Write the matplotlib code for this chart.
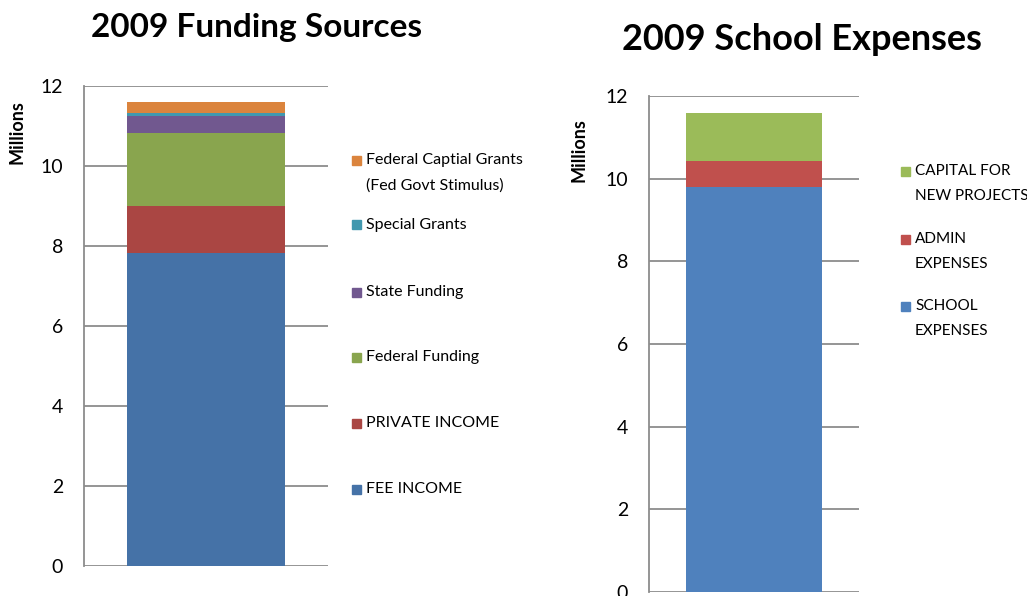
import matplotlib
matplotlib.use('Agg')
import matplotlib.pyplot as plt
from matplotlib.patches import Rectangle

plt.rcParams['font.family'] = ['Lato', 'DejaVu Sans']

# 2009 funding sources (millions), bottom to top
fund_labels = ["FEE INCOME", "PRIVATE INCOME", "Federal Funding", "State Funding",
               "Special Grants", "Federal Captial Grants\n(Fed Govt Stimulus)"]
fund_values = [7.83, 1.17, 1.825, 0.425, 0.075, 0.275]
fund_colors = ["#4572A7", "#AA4643", "#89A54E", "#71588F", "#4198AF", "#DB843D"]

# 2009 school expenses (millions), bottom to top
exp_labels = ["SCHOOL\nEXPENSES", "ADMIN\nEXPENSES", "CAPITAL FOR\nNEW PROJECTS"]
exp_values = [9.79, 0.63, 1.17]
exp_colors = ["#4F81BD", "#C0504D", "#9BBB59"]

yticks = [0, 2, 4, 6, 8, 10, 12]

W, H = 1027, 596
fig = plt.figure(figsize=(W / 100, H / 100), dpi=100)


def px(x, y):
    return x / W, 1 - y / H


def stacked(ax, values, colors):
    bottom = 0
    for v, c in zip(values, colors):
        ax.bar(0, v, width=0.645, bottom=bottom, color=c, zorder=3)
        bottom += v
    ax.set_xlim(-0.5, 0.5)
    ax.set_ylim(0, 12)
    ax.set_yticks(yticks)
    ax.set_xticks([])
    ax.grid(axis='y', color='#8c8c8c', linewidth=1.3, zorder=0)
    for s in ['top', 'right', 'bottom']:
        ax.spines[s].set_visible(False)
    ax.spines['left'].set_color('#8c8c8c')
    ax.spines['left'].set_linewidth(1.3)
    ax.tick_params(axis='y', length=0, pad=15, labelsize=14)


def legend(labels, colors, x, ys, size):
    for lab, c, y in zip(labels, colors, ys):
        fx, fy = px(x, y)
        fig.patches.append(Rectangle((fx, fy - 4.5 / H), 9 / W, 9 / H,
                                     transform=fig.transFigure, color=c))
        fig.text(fx + 14 / W, fy + 7 / H, lab, fontsize=size, va='top',
                 linespacing=2.0)


ax1 = fig.add_axes([84 / W, 30 / H, 244 / W, 480 / H])
stacked(ax1, fund_values, fund_colors)
ax1.set_ylabel("Millions", fontsize=13, fontweight='bold')
ax1.yaxis.set_label_coords(-0.24, 0.905)

ax2 = fig.add_axes([649 / W, 4 / H, 210 / W, 496 / H])
stacked(ax2, exp_values, exp_colors)
ax2.set_ylabel("Millions", fontsize=13, fontweight='bold')
ax2.yaxis.set_label_coords(-0.295, 0.89)

fig.text(257 / W, 1 - 28 / H, "2009 Funding Sources", fontsize=24,
         fontweight='bold', ha='center', va='center')
fig.text(802 / W, 1 - 40 / H, "2009 School Expenses", fontsize=26,
         fontweight='bold', ha='center', va='center')

legend(fund_labels[::-1], fund_colors[::-1], 352, [160, 225, 292, 357, 423, 489], 11.5)
legend(exp_labels[::-1], exp_colors[::-1], 901, [171, 239, 306], 11)

fig.savefig("out.png", dpi=100)
